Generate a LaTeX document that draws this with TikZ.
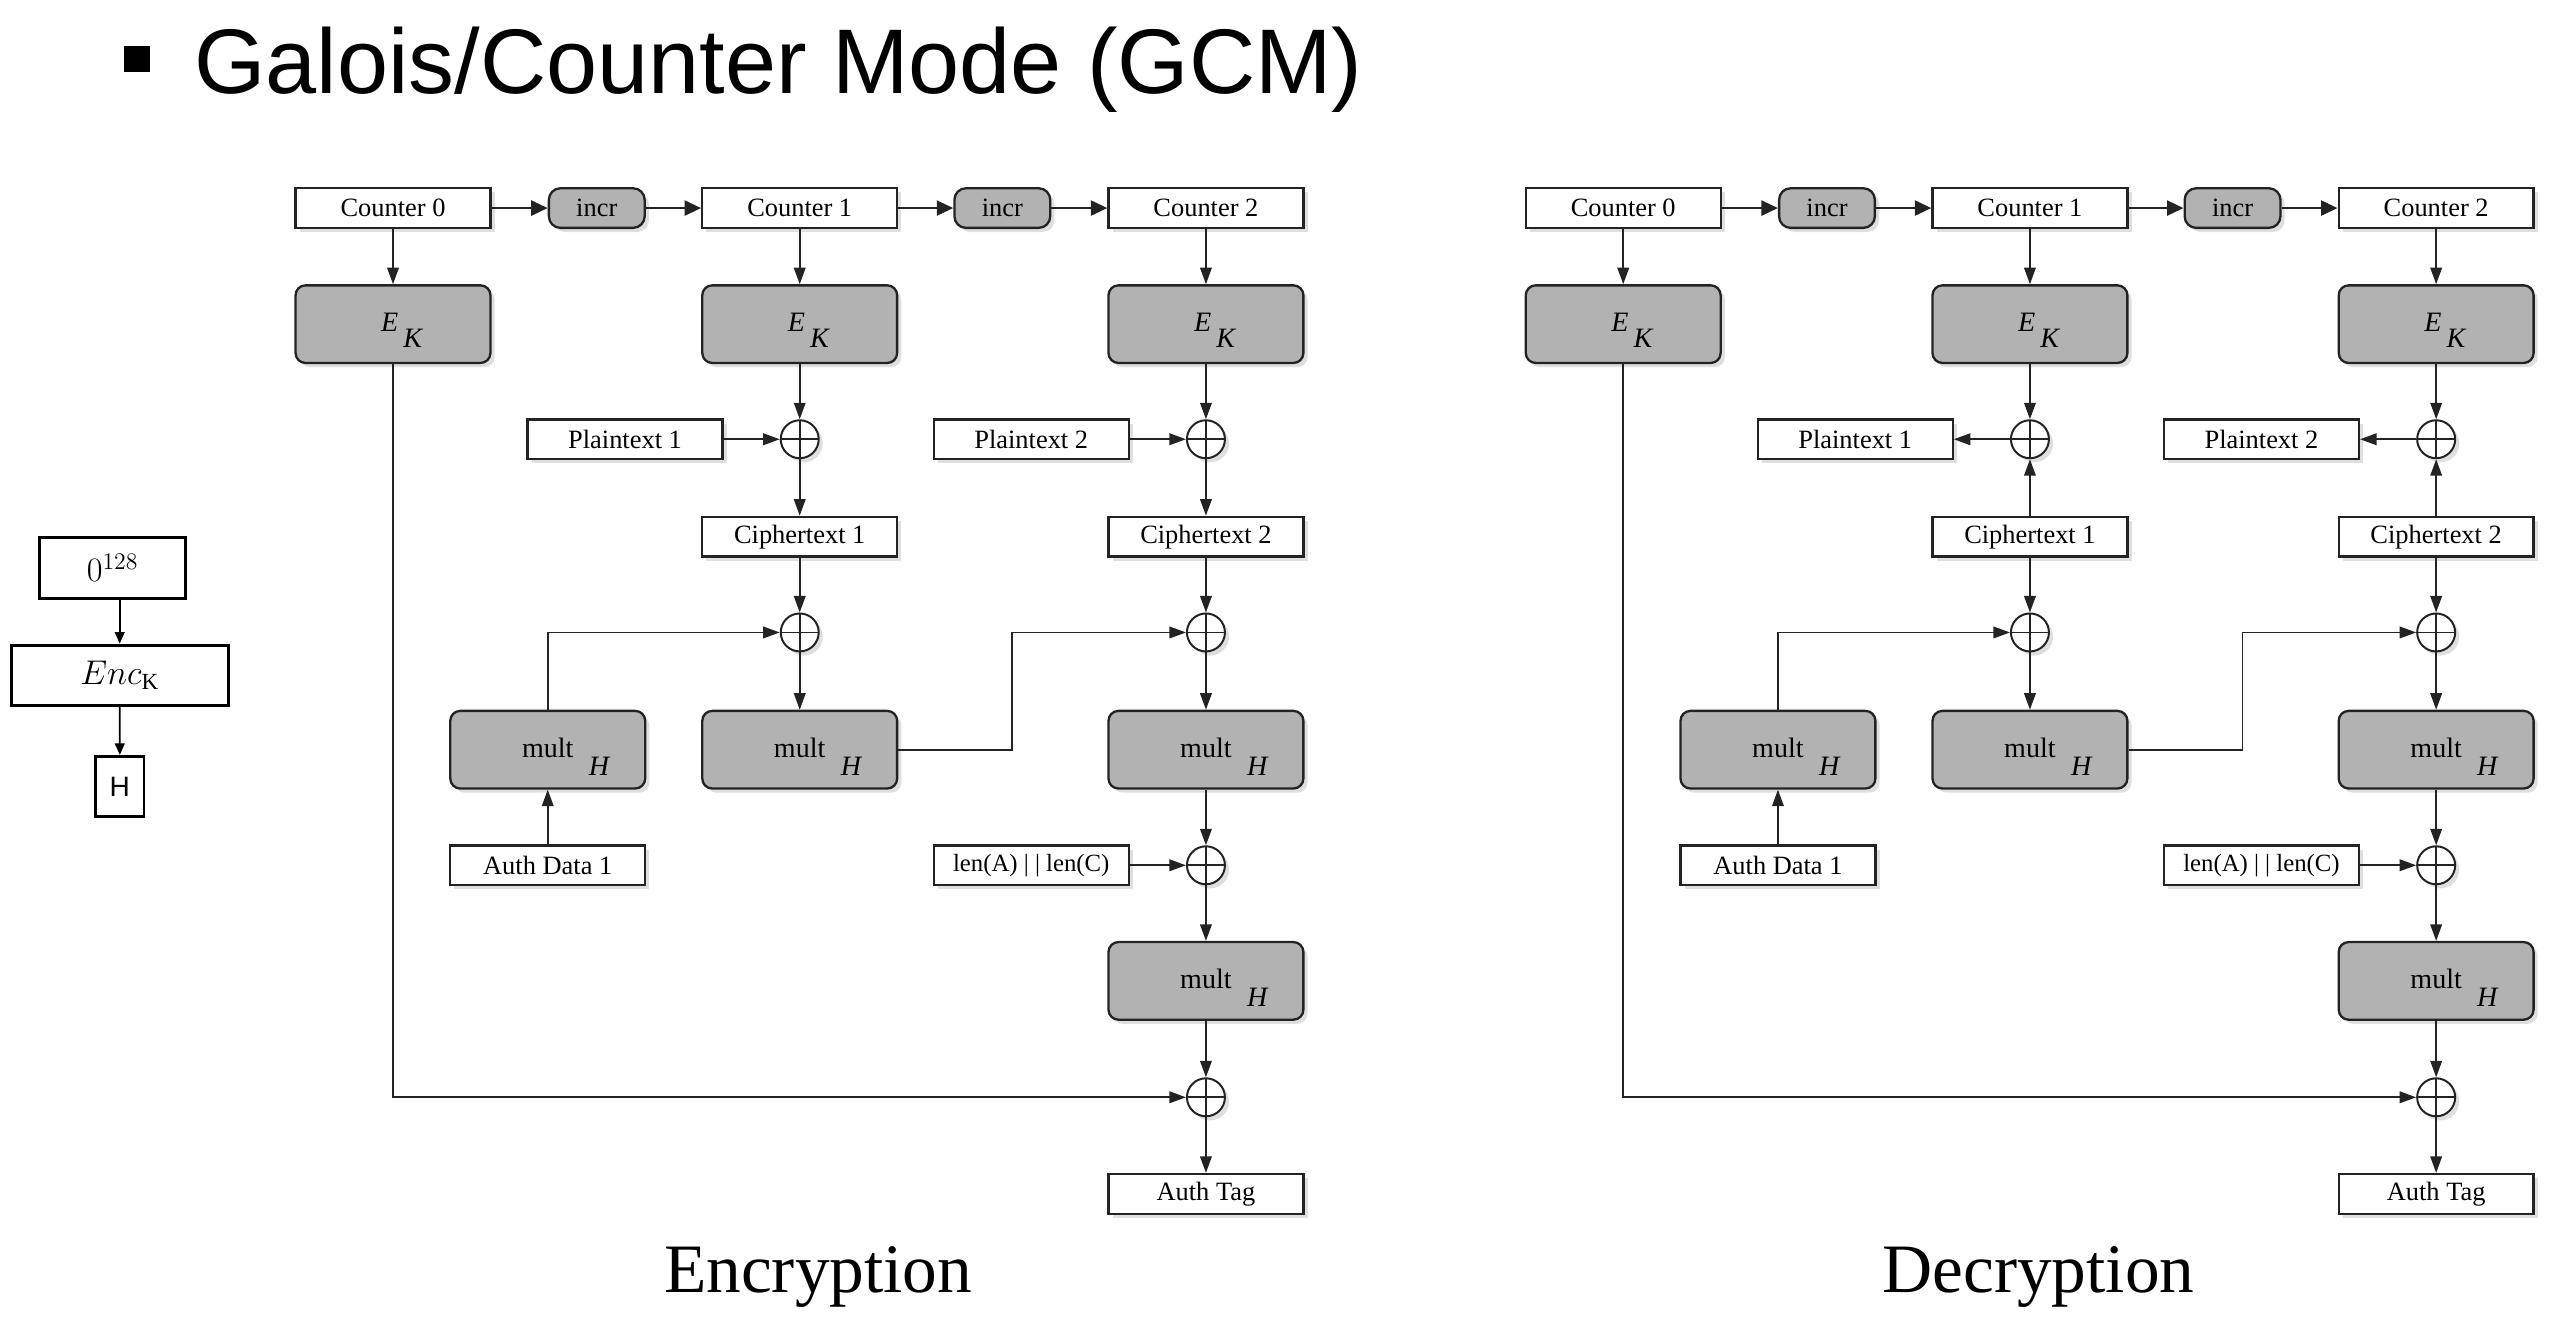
\documentclass[tikz,border=0pt]{standalone}
\usepackage{fontspec}
\setmainfont{Liberation Serif}
\newfontfamily\titlefont{Liberation Sans}
\usetikzlibrary{arrows.meta,shadows,calc}
\definecolor{boxgray}{RGB}{178,178,178}
\definecolor{edgecol}{RGB}{35,35,35}
\newcommand\gcmfont{\fontsize{16}{18}\selectfont}

\newcommand\gcmhalf[3]{%
\begin{scope}[xshift=#2pt]
\node[wbox] (#1c0) at (238,126) {Counter 0};
\node[ibox] (#1i1) at (361.4,126) {incr};
\node[wbox] (#1c1) at (484.3,126) {Counter 1};
\node[ibox] (#1i2) at (607,126) {incr};
\node[wbox] (#1c2) at (730.3,126) {Counter 2};
\node[gbox] (#1ek0) at (238,196.3) {};
\node[gbox] (#1ek1) at (484.3,196.3) {};
\node[gbox] (#1ek2) at (730.3,196.3) {};
\node[lbl] (#1ekEa) at (236,195) {E};
\node[lbl] (#1ekKa) at (250,205) {K};
\node[lbl] (#1ekEb) at (482.3,195) {E};
\node[lbl] (#1ekKb) at (496.3,205) {K};
\node[lbl] (#1ekEc) at (728.3,195) {E};
\node[lbl] (#1ekKc) at (742.3,205) {K};
\node[wbox] (#1p1) at (378.5,266) {Plaintext 1};
\node[xorc] (#1xa1) at (484.3,266) {};
\node[wbox] (#1p2) at (624.5,266) {Plaintext 2};
\node[xorc] (#1xa2) at (730.3,266) {};
\node[wbox] (#1ct1) at (484.3,325) {Ciphertext 1};
\node[wbox] (#1ct2) at (730.3,325) {Ciphertext 2};
\node[xorc] (#1xb1) at (484.3,383) {};
\node[xorc] (#1xb2) at (730.3,383) {};
\node[gbox] (#1ma) at (331.7,454) {};
\node[gbox] (#1m1) at (484.3,454) {};
\node[gbox] (#1m2) at (730.3,454) {};
\node[mlbl] (#1maT) at (331.7,453) {mult};
\node[lbl] (#1maH) at (362.7,464) {H};
\node[mlbl] (#1m1T) at (484.3,453) {mult};
\node[lbl] (#1m1H) at (515.3,464) {H};
\node[mlbl] (#1m2T) at (730.3,453) {mult};
\node[lbl] (#1m2H) at (761.3,464) {H};
\node[wbox] (#1ad) at (331.7,524) {Auth Data 1};
\node[wbox,font=\fontsize{15}{17}\selectfont] (#1len) at (624.5,524) {len(A) | | len(C)};
\node[xorc] (#1xc) at (730.3,524) {};
\node[gbox] (#1m3) at (730.3,594) {};
\node[mlbl] (#1m3T) at (730.3,593) {mult};
\node[lbl] (#1m3H) at (761.3,604) {H};
\node[xorc] (#1xd) at (730.3,664.5) {};
\node[wbox] (#1tag) at (730.3,723) {Auth Tag};
\coordinate (#1bend) at (613,454);
\draw[toparr] (#1c0) -- (#1i1);
\draw[toparr] (#1i1) -- (#1c1);
\draw[toparr] (#1c1) -- (#1i2);
\draw[toparr] (#1i2) -- (#1c2);
\draw[arr] (#1c0) -- (#1ek0);
\draw[arr] (#1c1) -- (#1ek1);
\draw[arr] (#1c2) -- (#1ek2);
\draw[arr] (#1ek1) -- (#1xa1);
\draw[arr] (#1ek2) -- (#1xa2);
\ifnum#3=0
\draw[arr] (#1p1) -- (#1xa1);
\draw[arr] (#1xa1) -- (#1ct1);
\draw[arr] (#1p2) -- (#1xa2);
\draw[arr] (#1xa2) -- (#1ct2);
\else
\draw[arr] (#1xa1) -- (#1p1);
\draw[arr] (#1ct1) -- (#1xa1);
\draw[arr] (#1xa2) -- (#1p2);
\draw[arr] (#1ct2) -- (#1xa2);
\fi
\draw[arr] (#1ct1) -- (#1xb1);
\draw[arr] (#1ct2) -- (#1xb2);
\draw[arr] (#1xb1) -- (#1m1);
\draw[arr] (#1xb2) -- (#1m2);
\draw[arr] (#1ma.north) |- (#1xb1.west);
\draw[arr] (#1ad) -- (#1ma);
\draw[arr] (#1m1.east) -- (#1bend) |- (#1xb2.west);
\draw[arr] (#1m2) -- (#1xc);
\draw[arr] (#1len) -- (#1xc);
\draw[arr] (#1xc) -- (#1m3);
\draw[arr] (#1m3) -- (#1xd);
\draw[arr] (#1ek0.south) |- (#1xd.west);
\draw[arr] (#1xd) -- (#1tag);
\end{scope}}

\begin{document}
\begin{tikzpicture}[x=1pt,y=-1pt,
  every node/.style={inner sep=0pt},
  shd/.style={drop shadow={shadow xshift=2.5pt,shadow yshift=-2.5pt,opacity=0.25}},
  wbox/.style={shd, draw=edgecol, line width=1.4pt, fill=white, minimum width=118pt, minimum height=24pt, font=\gcmfont},
  gbox/.style={shd, draw=edgecol, line width=1.4pt, fill=boxgray, rounded corners=6pt, minimum width=118pt, minimum height=47pt},
  ibox/.style={shd, draw=edgecol, line width=1.4pt, fill=boxgray, rounded corners=7pt, minimum width=58pt, minimum height=24pt, font=\gcmfont},
  xorc/.style={shd, circle, draw=edgecol, line width=1.2pt, fill=white, minimum size=23pt,
    path picture={\draw[edgecol,line width=1pt] (path picture bounding box.north) -- (path picture bounding box.south) (path picture bounding box.west) -- (path picture bounding box.east);}},
  lbl/.style={font=\fontsize{17}{19}\selectfont\itshape},
  mlbl/.style={font=\fontsize{17}{19}\selectfont},
  arr/.style={draw=edgecol, line width=1.1pt, -{Triangle[length=10pt,width=7pt]}},
  toparr/.style={draw=edgecol, line width=1.7pt, -{Triangle[length=10pt,width=9pt]}},
  sbox/.style={draw=black, line width=1.8pt, fill=white},
  smallarr/.style={draw=black, line width=1pt, -{Triangle[length=7pt,width=6pt]}},
]
\fill[white] (0,0) rectangle (1560,798.2);
\useasboundingbox (0,0) rectangle (1560,798.2);

\node[fill=black, minimum width=16pt, minimum height=15.5pt] (bullet) at (83,35.8) {};
\node[anchor=base west, font=\titlefont\fontsize{55.6}{60}\selectfont] (title) at (117.5,56.6) {Galois/Counter Mode (GCM)};

\node[sbox, minimum width=88.7pt, minimum height=37pt] (z0) at (68.2,343.9) {\fontsize{21}{23}\selectfont$0^{128}$};
\node[sbox, minimum width=131.6pt, minimum height=36.5pt] (enc) at (72.5,408.9) {\fontsize{20}{22}\selectfont$Enc_{\mathrm{K}}$};
\node[sbox, minimum width=29.2pt, minimum height=36.5pt] (hbox) at (72.6,476.3) {\titlefont\fontsize{17}{19}\selectfont H};
\draw[smallarr] (z0.south -| enc.north) -- (enc.north);
\draw[smallarr] (enc) -- (hbox);

\gcmhalf{e}{0}{0}
\gcmhalf{d}{745}{1}

\node[anchor=base, font=\fontsize{42}{46}\selectfont] (enclbl) at (495.5,783) {Encryption};
\node[anchor=base, font=\fontsize{42}{46}\selectfont] (declbl) at (1234.5,783) {Decryption};
\end{tikzpicture}
\end{document}
